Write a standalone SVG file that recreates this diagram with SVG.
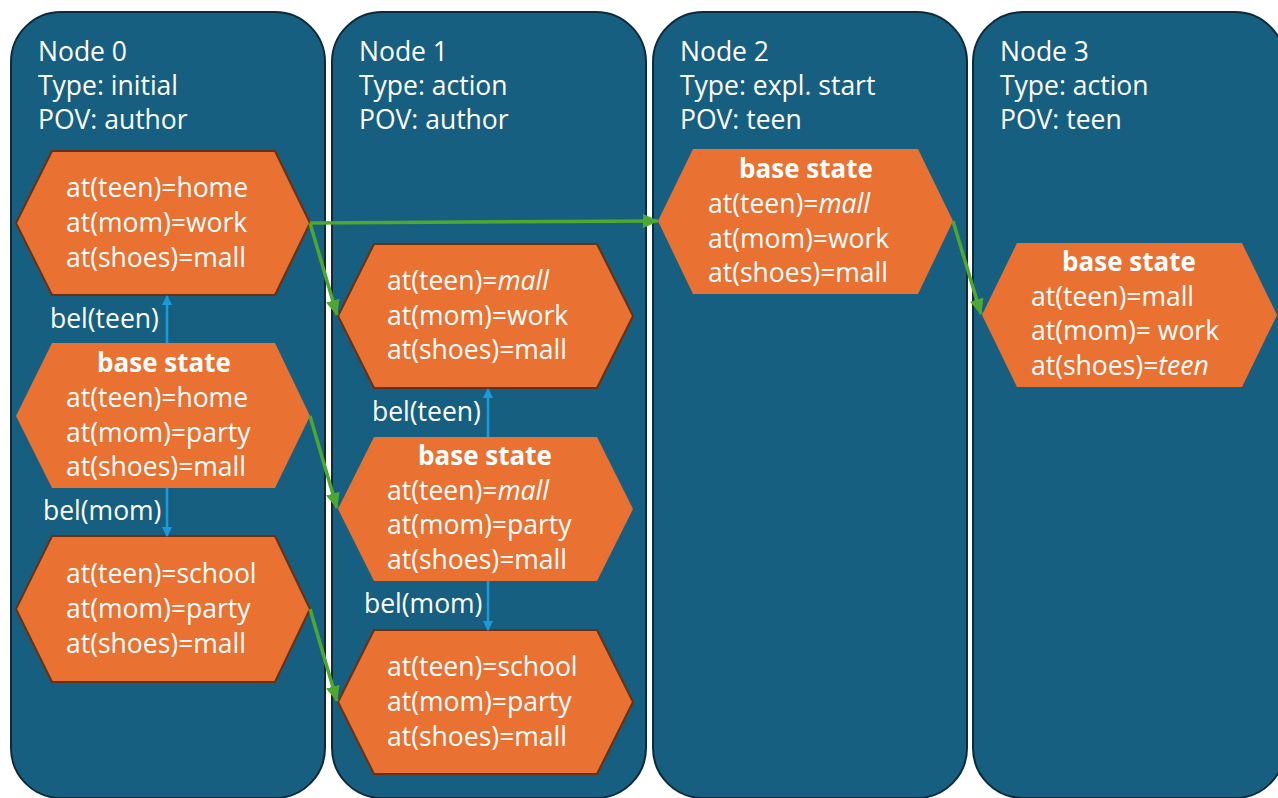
<svg xmlns="http://www.w3.org/2000/svg" width="1278" height="798" viewBox="0 0 1278 798">
<style>
.col{fill:#175f81;stroke:#0d2a3a;stroke-width:2}
.hex{fill:#e97132}
.hexb{fill:#e97132;stroke:#6b300f;stroke-width:2}
text{font-family:"Open Sans","Liberation Sans",sans-serif;font-size:26.5px;fill:#ffffff}
.b{font-weight:bold;font-size:26px}
.c{text-anchor:middle}
.i{font-style:italic}
.g{stroke:#4ea72e;stroke-width:3.5;fill:none}
.bl{stroke:#1a9ad6;stroke-width:2.5;fill:none}
</style>
<defs>
<marker id="ga" markerUnits="userSpaceOnUse" markerWidth="16" markerHeight="14" refX="15" refY="7" orient="auto">
<path d="M0,0 L16,7 L0,14 z" fill="#4ea72e"/>
</marker>
<marker id="ba" markerUnits="userSpaceOnUse" markerWidth="10" markerHeight="10" refX="9" refY="5" orient="auto">
<path d="M0,0 L10,5 L0,10 z" fill="#1a9ad6"/>
</marker>
</defs>
<rect width="1278" height="798" fill="#ffffff"/>
<g id="col0">
<rect class="col" x="11" y="12" width="314" height="786" rx="50"/>
<text x="38" y="61">Node 0</text>
<text x="38" y="95">Type: initial</text>
<text x="38" y="129">POV: author</text>
</g>
<g id="col1">
<rect class="col" x="332" y="12" width="314" height="786" rx="50"/>
<text x="359" y="61">Node 1</text>
<text x="359" y="95">Type: action</text>
<text x="359" y="129">POV: author</text>
</g>
<g id="col2">
<rect class="col" x="653" y="12" width="314" height="786" rx="50"/>
<text x="680" y="61">Node 2</text>
<text x="680" y="95">Type: expl. start</text>
<text x="680" y="129">POV: teen</text>
</g>
<g id="col3">
<rect class="col" x="973" y="12" width="312" height="786" rx="50"/>
<text x="1000" y="61">Node 3</text>
<text x="1000" y="95">Type: action</text>
<text x="1000" y="129">POV: teen</text>
</g>
<g id="n0a">
<polygon class="hexb" points="16,223 52,151 275,151 310,223 275,295 52,295"/>
<text x="66" y="197">at(teen)=home</text>
<text x="66" y="232">at(mom)=work</text>
<text x="66" y="267">at(shoes)=mall</text>
</g>
<g id="n0b">
<polygon class="hex" points="16,416 52,343 275,343 310,416 275,488 52,488"/>
<text class="b c" x="164" y="372">base state</text>
<text x="66" y="407">at(teen)=home</text>
<text x="66" y="442">at(mom)=party</text>
<text x="66" y="476">at(shoes)=mall</text>
</g>
<g id="n0c">
<polygon class="hexb" points="16,609 52,536 275,536 310,609 275,682 52,682"/>
<text x="66" y="583">at(teen)=school</text>
<text x="66" y="618">at(mom)=party</text>
<text x="66" y="653">at(shoes)=mall</text>
</g>
<g id="n1a">
<polygon class="hexb" points="338,316 374,244 597,244 633,316 597,388 374,388"/>
<text x="387" y="290">at(teen)=<tspan class="i">mall</tspan></text>
<text x="387" y="325">at(mom)=work</text>
<text x="387" y="359">at(shoes)=mall</text>
</g>
<g id="n1b">
<polygon class="hex" points="338,509 374,437 597,437 633,509 597,581 374,581"/>
<text class="b c" x="485" y="465">base state</text>
<text x="387" y="500">at(teen)=<tspan class="i">mall</tspan></text>
<text x="387" y="534">at(mom)=party</text>
<text x="387" y="569">at(shoes)=mall</text>
</g>
<g id="n1c">
<polygon class="hexb" points="338,702 374,630 597,630 633,702 597,774 374,774"/>
<text x="387" y="676">at(teen)=school</text>
<text x="387" y="711">at(mom)=party</text>
<text x="387" y="746">at(shoes)=mall</text>
</g>
<g id="n2">
<polygon class="hex" points="658,221 693,149 918,149 953,221 918,294 693,294"/>
<text class="b c" x="806" y="178">base state</text>
<text x="708" y="213">at(teen)=<tspan class="i">mall</tspan></text>
<text x="708" y="248">at(mom)=work</text>
<text x="708" y="282">at(shoes)=mall</text>
</g>
<g id="n3">
<polygon class="hex" points="982,315 1017,243 1242,243 1277,315 1242,387 1017,387"/>
<text class="b c" x="1129" y="271">base state</text>
<text x="1031" y="306">at(teen)=mall</text>
<text x="1031" y="340">at(mom)= work</text>
<text x="1031" y="375">at(shoes)=<tspan class="i">teen</tspan></text>
</g>
<g id="connectors">
<line class="g" x1="310" y1="223" x2="658" y2="221" marker-end="url(#ga)"/>
<line class="g" x1="310" y1="223" x2="337" y2="315" marker-end="url(#ga)"/>
<line class="g" x1="310" y1="416" x2="337" y2="508" marker-end="url(#ga)"/>
<line class="g" x1="310" y1="609" x2="337" y2="701" marker-end="url(#ga)"/>
<line class="g" x1="953" y1="221" x2="981" y2="314" marker-end="url(#ga)"/>
<line class="bl" x1="167" y1="343" x2="167" y2="296" marker-end="url(#ba)"/>
<line class="bl" x1="167" y1="488" x2="167" y2="536" marker-end="url(#ba)"/>
<line class="bl" x1="488" y1="437" x2="488" y2="389" marker-end="url(#ba)"/>
<line class="bl" x1="488" y1="581" x2="488" y2="630" marker-end="url(#ba)"/>
<text x="50" y="328">bel(teen)</text>
<text x="43" y="520">bel(mom)</text>
<text x="372" y="421">bel(teen)</text>
<text x="364" y="613">bel(mom)</text>
</g>
</svg>
